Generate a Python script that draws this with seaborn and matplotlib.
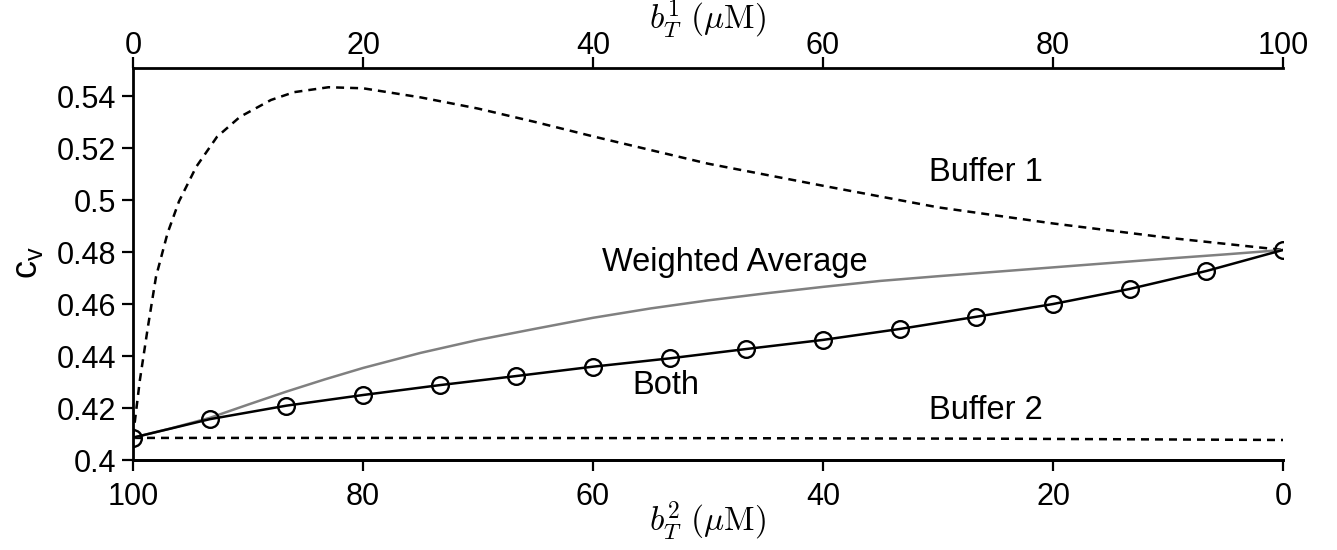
import numpy as np
import matplotlib
matplotlib.use("Agg")
import matplotlib.pyplot as plt
import seaborn as sns
from matplotlib.ticker import FormatStrFormatter

# --- data (x is b_T^1 in uM; b_T^2 = 100 - b_T^1) ---
buf1_b1 = [0, 0.6, 1.3, 2.0, 3.0, 4.0, 5.5, 7.3, 9.3, 12, 14, 17, 20, 25, 30,
           35, 40, 50, 60, 70, 80, 90, 100]
buf1_cv = [0.409, 0.4308, 0.4513, 0.4705, 0.4872, 0.4995, 0.5128, 0.5243, 0.5320,
           0.5385, 0.5415, 0.5434, 0.5430, 0.5395, 0.5352, 0.5300, 0.5245, 0.5140,
           0.5055, 0.4972, 0.4910, 0.4855, 0.4808]

buf2_b1 = [0, 25, 50, 75, 100]
buf2_cv = [0.4085, 0.4085, 0.4084, 0.4082, 0.4077]

wavg_b1 = [0, 3.33, 6.67, 10, 13.33, 16.67, 20, 25, 30, 35, 40, 45, 50, 55, 60,
           65, 70, 75, 80, 85, 90, 95, 100]
wavg_cv = [0.4086, 0.4122, 0.4162, 0.4213, 0.4263, 0.4310, 0.4354, 0.4412, 0.4462,
           0.4505, 0.4547, 0.4583, 0.4614, 0.4641, 0.4666, 0.4689, 0.4707, 0.4724,
           0.4741, 0.4758, 0.4775, 0.4791, 0.4808]

both_b1 = [0, 6.67, 13.33, 20, 26.67, 33.33, 40, 46.67, 53.33, 60, 66.67, 73.33,
           80, 86.67, 93.33, 100]
both_cv = [0.4086, 0.4157, 0.4209, 0.4250, 0.4288, 0.4323, 0.4359, 0.4391, 0.4427,
           0.4462, 0.4504, 0.4551, 0.4600, 0.4658, 0.4727, 0.4808]

top_ticks = [0, 20, 40, 60, 80, 100]
bottom_ticks = [100, 80, 60, 40, 20, 0]
y_ticks = [0.4, 0.42, 0.44, 0.46, 0.48, 0.5, 0.52, 0.54]

# labels placed in data coordinates (b_T^1, c_v)
labels = [("Buffer 1", 74.2, 0.5107), ("Weighted Average", 52.3, 0.4761),
          ("Both", 46.3, 0.4288), ("Buffer 2", 74.2, 0.4192)]

sns.set_style("ticks")
plt.rcParams["font.family"] = ["Liberation Sans", "DejaVu Sans"]
plt.rcParams["mathtext.fontset"] = "custom"
plt.rcParams["mathtext.rm"] = "Liberation Sans"
plt.rcParams["mathtext.it"] = "Liberation Sans:italic"
for key in ["text.color", "axes.labelcolor", "xtick.color", "ytick.color",
            "axes.edgecolor"]:
    plt.rcParams[key] = "black"

fig = plt.figure(figsize=(13.37, 5.5), dpi=100)
ax = fig.add_axes([133 / 1337, 1 - 460 / 550, 1150 / 1337, 392 / 550])

dash = (0, (3.2, 2.4))
sns.lineplot(x=buf1_b1, y=buf1_cv, ax=ax, color="black", lw=1.8, linestyle=dash)
sns.lineplot(x=buf2_b1, y=buf2_cv, ax=ax, color="black", lw=1.8, linestyle=dash)
sns.lineplot(x=wavg_b1, y=wavg_cv, ax=ax, color="#808080", lw=1.8)
sns.lineplot(x=both_b1, y=both_cv, ax=ax, color="black", lw=1.8, marker="o",
             markersize=12, markerfacecolor="none", markeredgecolor="black",
             markeredgewidth=1.7)

for txt, xx, yy in labels:
    ax.text(xx, yy, txt, fontsize=23.5, ha="center", va="center")

ax.set_xlim(0, 100)
ax.set_ylim(0.4, 0.5508)

# top axis: b_T^1
ax.xaxis.tick_top()
ax.set_xticks(top_ticks)
ax.set_xticklabels([str(t) for t in top_ticks])
ax.tick_params(axis="x", which="both", top=True, bottom=False, labeltop=True,
               labelbottom=False, direction="out", length=8, width=1.6,
               labelsize=22, pad=-3)
ax.set_xlabel(r"$b_T^1\ (\mu\mathrm{M})$", fontsize=24, math_fontfamily="cm")
ax.xaxis.set_label_position("top")
ax.xaxis.label.set_va("center")
ax.xaxis.set_label_coords(0.5, 1.125)

# bottom axis: b_T^2 = 100 - b_T^1
sec = ax.secondary_xaxis("bottom", functions=(lambda b: 100 - b, lambda b: 100 - b))
sec.set_xticks(bottom_ticks)
sec.set_xticklabels([str(t) for t in bottom_ticks])
sec.tick_params(axis="x", direction="out", length=8, width=1.6, labelsize=22, pad=8)
sec.spines["bottom"].set_linewidth(2)
sec.set_xlabel(r"$b_T^2\ (\mu\mathrm{M})$", fontsize=24, math_fontfamily="cm")
sec.xaxis.label.set_va("center")
sec.xaxis.set_label_coords(0.5, -0.156, transform=ax.transAxes)

ax.set_yticks(y_ticks)
ax.yaxis.set_major_formatter(FormatStrFormatter("%g"))
ax.tick_params(axis="y", direction="out", length=8, width=1.6, labelsize=22, pad=4)
ax.set_ylabel(r"$\mathrm{c_v}$", fontsize=26, math_fontfamily="custom")
ax.yaxis.label.set_va("center")
ax.yaxis.set_label_coords(-0.092, 0.505)

ax.spines["right"].set_visible(False)
for s in ["left", "top", "bottom"]:
    ax.spines[s].set_linewidth(2)

fig.savefig("out.png", dpi=100)
